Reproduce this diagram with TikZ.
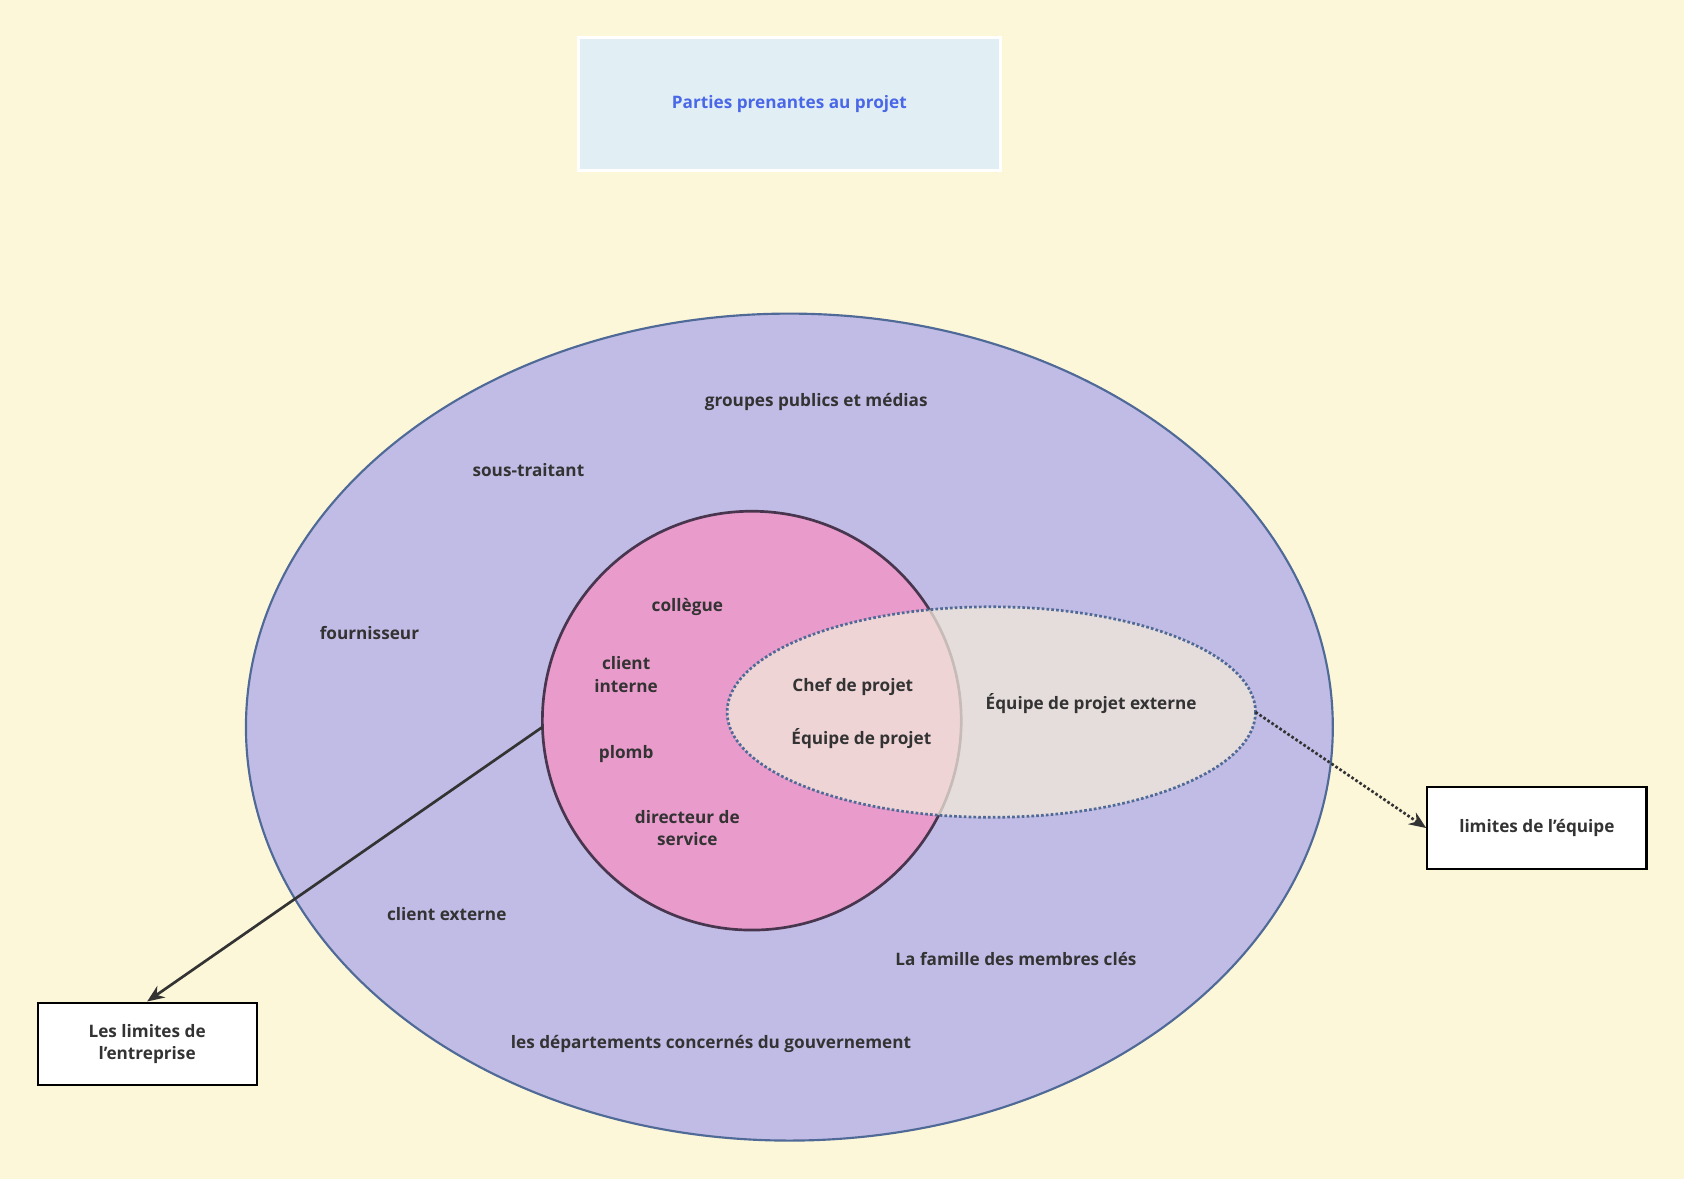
\documentclass[tikz,border=0pt]{standalone}
\usepackage{fontspec}
\setmainfont{Open Sans}
\usetikzlibrary{positioning,arrows.meta}
\definecolor{bgyellow}{HTML}{FDF7DA}
\definecolor{titlefill}{HTML}{E1EFF5}
\definecolor{titletext}{HTML}{4A67E8}
\definecolor{outerfill}{HTML}{C1BCE5}
\definecolor{outerline}{HTML}{4F6A96}
\definecolor{pinkfill}{HTML}{E99BCB}
\definecolor{pinkline}{HTML}{48364F}
\definecolor{teamfill}{HTML}{F2E8DA}
\definecolor{labeltext}{HTML}{333333}
\newcommand{\apos}{{\char"27}}
\tikzset{
  lbl/.style={font=\fontsize{16}{21}\selectfont\bfseries, text=labeltext, align=center},
  limitbox/.style={draw=black, line width=2pt, fill=white, minimum width=204pt, minimum height=77pt, font=\fontsize{16}{21}\selectfont\bfseries, text=labeltext, align=center},
}
\begin{document}
\begin{tikzpicture}[x=1pt,y=-1pt]
\useasboundingbox[fill=bgyellow] (0,0) rectangle (1568,1098);

% Titre
\node[draw=white, line width=2.5pt, fill=titlefill, minimum width=393pt, minimum height=124pt,
  font=\fontsize{16}{20}\selectfont\bfseries, text=titletext] (title) at (735,97) {Parties prenantes au projet};

% Ellipses
\draw[outerline, line width=2pt, fill=outerfill] (735,677) ellipse [x radius=506, y radius=385];
\draw[pinkline, line width=2.5pt, fill=pinkfill] (700,671) circle [radius=195];
\fill[teamfill, fill opacity=0.75] (923,663) ellipse [x radius=246, y radius=98];
\draw[outerline, line width=2.5pt, dotted] (923,663) ellipse [x radius=246, y radius=98];
\coordinate (pinkW) at (505,677);
\coordinate (teamE) at (1169,663);

% Textes
\node[lbl] (medias) at (760,374) {groupes publics et médias};
\node[lbl] (soustr) at (492,438) {sous-traitant};
\node[lbl] (fourn) at (344,589) {fournisseur};
\node[lbl] (collegue) at (640,565) {collègue};
\node[lbl] (clientint) at (583,628) {client\\interne};
\node[lbl] (plomb) at (583,702) {plomb};
\node[lbl] (directeur) at (640,771) {directeur de\\service};
\node[lbl] (chef) at (794,640) {Chef de projet};
\node[lbl] (equipe) at (802,688) {Équipe de projet};
\node[lbl] (externe) at (1016,655) {Équipe de projet externe};
\node[lbl] (clientext) at (416,851) {client externe};
\node[lbl] (famille) at (946,893) {La famille des membres clés};
\node[lbl] (gouv) at (662,972) {les départements concernés du gouvernement};

% Limites
\node[limitbox] (limequipe) at (1431,771) {limites de l\apos équipe};
\node[limitbox] (limentr) at (137,972) {Les limites de\\l\apos entreprise};

\draw[labeltext, line width=2.5pt, -{Stealth[length=16pt,width=13pt]}] (pinkW) -- (limentr.north);
\draw[labeltext, line width=2.5pt, dotted, -{Stealth[length=16pt,width=13pt]}] (teamE) -- (limequipe.west);
\end{tikzpicture}
\end{document}
